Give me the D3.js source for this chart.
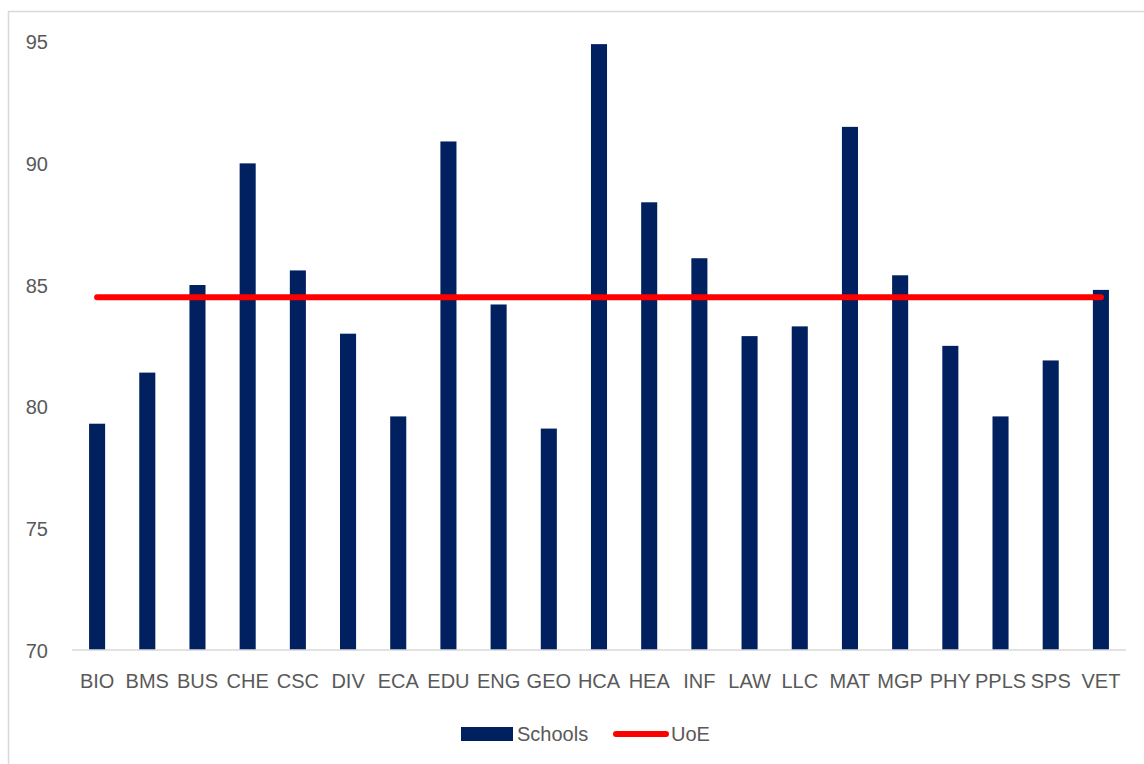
<!DOCTYPE html>
<html>
<head>
<meta charset="utf-8">
<script src="https://cdn.jsdelivr.net/npm/d3@7"></script>
<style>
  html, body { margin: 0; padding: 0; background: #ffffff; }
  svg { display: block; }
  text { font-family: "Liberation Sans", Arial, sans-serif; fill: #595959; }
</style>
</head>
<body>
<svg id="chart" width="1144" height="764"></svg>
<script>
// School codes along the x axis
const schools = ["BIO","BMS","BUS","CHE","CSC","DIV","ECA","EDU","ENG","GEO","HCA",
                 "HEA","INF","LAW","LLC","MAT","MGP","PHY","PPLS","SPS","VET"];
// Score for each school
const schoolScores = [79.3, 81.4, 85.0, 90.0, 85.6, 83.0, 79.6, 90.9, 84.2, 79.1, 94.9,
                      88.4, 86.1, 82.9, 83.3, 91.5, 85.4, 82.5, 79.6, 81.9, 84.8];
// University-wide score
const uoeScore = 84.5;
// Value axis ticks
const yTicks = [70, 75, 80, 85, 90, 95];
const legendLabels = ["Schools", "UoE"];

const navy = "#002060";
const red = "#ff0000";

const svg = d3.select("#chart");

// chart frame
svg.append("rect")
  .attr("x", 8.5).attr("y", 11.5)
  .attr("width", 1150).attr("height", 770)
  .attr("fill", "none").attr("stroke", "#d9d9d9").attr("stroke-width", 1.5);

const x = d3.scaleBand()
  .domain(schools)
  .range([72, 1126])
  .paddingInner(0.68)
  .paddingOuter(0.34);

const y = d3.scaleLinear()
  .domain([70, 95])
  .range([650, 41.7]);

// y tick labels (no axis line)
const yAxis = d3.axisLeft(y).tickValues(yTicks).tickSize(0).tickPadding(0);
const gy = svg.append("g").attr("transform", "translate(48,0)").call(yAxis);
gy.select(".domain").remove();
gy.selectAll("text")
  .attr("font-size", 20)
  .attr("dy", "0.35em")
  .style("font-family", "'Liberation Sans', Arial, sans-serif")
  .attr("fill", "#595959");

// bars
svg.append("g")
  .selectAll("rect")
  .data(schools)
  .join("rect")
  .attr("x", d => x(d))
  .attr("width", x.bandwidth())
  .attr("y", (d, i) => y(schoolScores[i]))
  .attr("height", (d, i) => y(70) - y(schoolScores[i]))
  .attr("fill", navy);

// x axis
const xAxis = d3.axisBottom(x).tickSize(0).tickPadding(0);
const gx = svg.append("g").attr("transform", `translate(0,${y(70)})`).call(xAxis);
gx.select(".domain")
  .attr("stroke", "#d9d9d9")
  .attr("stroke-width", 1.5)
  .attr("d", `M72,0H1126`);
gx.selectAll("text")
  .attr("font-size", 20)
  .attr("y", 38)
  .attr("dy", 0)
  .style("font-family", "'Liberation Sans', Arial, sans-serif")
  .attr("fill", "#595959");

// university-wide reference line
const line = d3.line()
  .x(d => x(d) + x.bandwidth() / 2)
  .y(() => y(uoeScore));
svg.append("path")
  .datum([schools[0], schools[schools.length - 1]])
  .attr("d", line)
  .attr("fill", "none")
  .attr("stroke", red)
  .attr("stroke-width", 6)
  .attr("stroke-linecap", "round");

// legend
const lg = svg.append("g");
lg.append("rect")
  .attr("x", 461).attr("y", 727)
  .attr("width", 52).attr("height", 14)
  .attr("fill", navy);
lg.append("text")
  .attr("x", 517).attr("y", 741)
  .attr("font-size", 20)
  .text(legendLabels[0]);
lg.append("line")
  .attr("x1", 616).attr("x2", 666)
  .attr("y1", 734).attr("y2", 734)
  .attr("stroke", red).attr("stroke-width", 6)
  .attr("stroke-linecap", "round");
lg.append("text")
  .attr("x", 671).attr("y", 741)
  .attr("font-size", 20)
  .text(legendLabels[1]);
</script>
</body>
</html>
